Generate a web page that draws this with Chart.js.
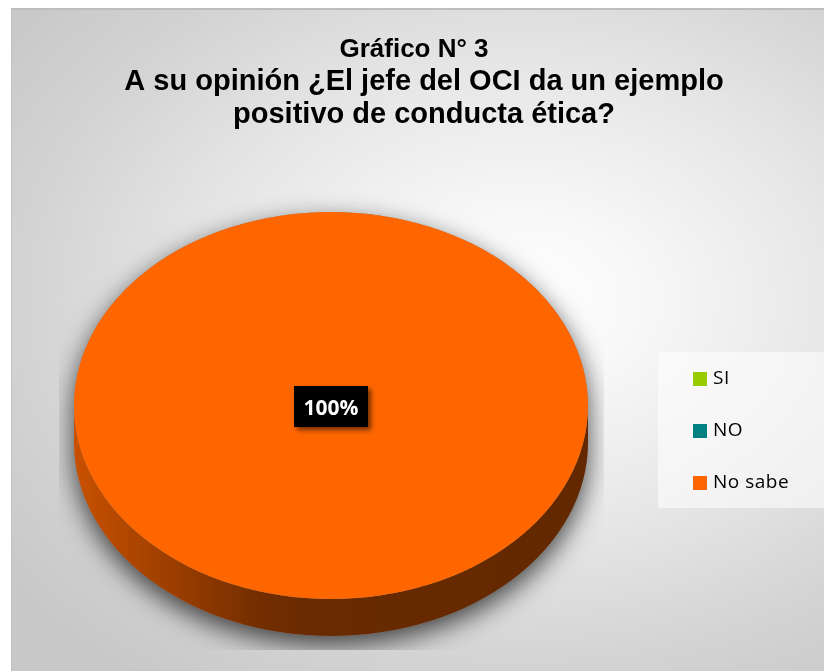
<!DOCTYPE html>
<html>
<head>
<meta charset="utf-8">
<script src="https://cdn.jsdelivr.net/npm/chart.js@4.4.1/dist/chart.umd.min.js"></script>
<style>
  html, body { margin: 0; padding: 0; background: #ffffff; }
  #wrap { position: relative; width: 824px; height: 671px; overflow: hidden; }
  #bg {
    position: absolute; left: 11px; top: 8px; width: 813px; height: 663px;
    box-sizing: border-box;
    border-top: 2px solid #bdbdbd; border-left: 1px solid #c3c3c3;
    background: radial-gradient(ellipse 640px 470px at 510px 290px,
      #ffffff 0%, #f8f8f8 18%, #e6e6e6 50%, #d3d3d3 78%, #c8c8c8 100%);
  }
  canvas { position: absolute; left: 0; top: 0; }
</style>
</head>
<body>
<div id="wrap">
  <div id="bg"></div>
  <canvas id="chart" width="824" height="671"></canvas>
</div>
<script>
// Chart content
const titleLines = ['Gráfico N° 3', 'A su opinión ¿El jefe del OCI da un ejemplo', 'positivo de conducta ética?'];
const categories = ['SI', 'NO', 'No sabe'];
const values = [0, 0, 100];
const sliceColors = ['#99CC00', '#008080', '#FF6600'];

// Perspective of the pie: vertical squash of the top face and wall height
const TILT = 0.753;
const DEPTH = 37;

function shade(hex, f) {
  const n = parseInt(hex.slice(1), 16);
  const r = Math.round(((n >> 16) & 255) * f);
  const g = Math.round(((n >> 8) & 255) * f);
  const b = Math.round((n & 255) * f);
  return 'rgb(' + r + ',' + g + ',' + b + ')';
}

const pie3d = {
  id: 'pie3d',
  beforeDatasetsDraw(chart) {
    const ctx = chart.ctx;
    const arcs = chart.getDatasetMeta(0).data;
    const cx = arcs[0].x, cy = arcs[0].y;
    const r = arcs[0].outerRadius;
    const ry = r * TILT;

    // soft drop shadow under the disc, kept inside the plot area
    ctx.save();
    ctx.beginPath();
    ctx.rect(cx - r - 15, cy - ry - 60, 2 * r + 31, ry * 2 + DEPTH + 74);
    ctx.clip();
    ctx.shadowColor = 'rgba(0,0,0,0.7)';
    ctx.shadowBlur = 26;
    ctx.shadowOffsetY = 9;
    ctx.fillStyle = '#8a8a8a';
    ctx.beginPath();
    ctx.ellipse(cx, cy, r, ry, 0, Math.PI, 0);
    ctx.ellipse(cx, cy + DEPTH, r, ry, 0, 0, Math.PI);
    ctx.closePath();
    ctx.fill();
    ctx.restore();

    // front walls of each slice
    arcs.forEach((arc, i) => {
      const s = arc.startAngle, e = arc.endAngle;
      if (e - s <= 0) return;
      const base = chart.data.datasets[0].backgroundColor[i];
      const grad = ctx.createLinearGradient(cx - r, 0, cx + r, 0);
      grad.addColorStop(0, shade(base, 0.79));
      grad.addColorStop(0.18, shade(base, 0.62));
      grad.addColorStop(0.36, shade(base, 0.45));
      grad.addColorStop(0.46, shade(base, 0.41));
      grad.addColorStop(1, shade(base, 0.39));
      [-2 * Math.PI, 0, 2 * Math.PI].forEach(off => {
        const a0 = Math.max(s, off), a1 = Math.min(e, off + Math.PI);
        if (a1 <= a0) return;
        ctx.beginPath();
        ctx.ellipse(cx, cy, r, ry, 0, a0, a1);
        ctx.ellipse(cx, cy + DEPTH, r, ry, 0, a1, a0, true);
        ctx.closePath();
        ctx.fillStyle = grad;
        ctx.fill();
      });
    });

    // squash the top face drawn by the doughnut controller
    ctx.save();
    ctx.translate(cx, cy);
    ctx.scale(1, TILT);
    ctx.translate(-cx, -cy);
  },
  afterDatasetsDraw(chart) {
    const ctx = chart.ctx;
    ctx.restore();

    const arcs = chart.getDatasetMeta(0).data;
    const data = chart.data.datasets[0].data;
    const total = data.reduce((a, b) => a + b, 0);
    const cx = arcs[0].x, cy = arcs[0].y;

    arcs.forEach((arc, i) => {
      const v = data[i];
      if (!v) return;
      let px, py;
      if (arc.endAngle - arc.startAngle >= 2 * Math.PI - 1e-6) {
        px = cx; py = cy;
      } else {
        const p = arc.tooltipPosition();
        px = p.x; py = cy + (p.y - cy) * TILT;
      }
      const txt = Math.round(v / total * 100) + '%';
      ctx.save();
      ctx.font = 'bold 21px "Open Sans"';
      const w = ctx.measureText(txt).width;
      const bw = w + 19, bh = 41;
      const bx = px - bw / 2, by = py + 1 - bh / 2;
      ctx.shadowColor = 'rgba(0,0,0,0.55)';
      ctx.shadowBlur = 5;
      ctx.shadowOffsetX = 3;
      ctx.shadowOffsetY = 3;
      ctx.fillStyle = '#000000';
      ctx.fillRect(bx, by, bw, bh);
      ctx.shadowColor = 'transparent';
      ctx.fillStyle = '#ffffff';
      ctx.textAlign = 'center';
      ctx.textBaseline = 'alphabetic';
      ctx.fillText(txt, px, by + bh / 2 + 8);
      ctx.restore();
    });
  },
  afterDraw(chart) {
    const ctx = chart.ctx;
    ctx.save();

    // title: heading line, then the question
    ctx.fillStyle = '#000000';
    ctx.textAlign = 'center';
    ctx.textBaseline = 'alphabetic';
    titleLines.forEach((line, k) => {
      ctx.font = (k === 0 ? 'bold 26px' : 'bold 29px') + ' "Liberation Sans", Arial, sans-serif';
      ctx.fillText(line, k === 0 ? 414 : 424, 57 + k * 33);
    });

    // legend
    ctx.fillStyle = 'rgba(255,255,255,0.55)';
    ctx.fillRect(658, 352, 166, 156);
    ctx.font = '19px "Open Sans"';
    ctx.letterSpacing = '0.5px';
    ctx.textAlign = 'left';
    ctx.textBaseline = 'middle';
    chart.data.labels.forEach((lab, i) => {
      const y = 379 + i * 52;
      ctx.fillStyle = chart.data.datasets[0].backgroundColor[i];
      ctx.fillRect(693, y - 7, 14, 14);
      ctx.fillStyle = '#000000';
      ctx.fillText(lab, 713, y);
    });
    ctx.restore();
  }
};

new Chart(document.getElementById('chart'), {
  type: 'pie',
  data: {
    labels: categories,
    datasets: [{
      data: values,
      backgroundColor: sliceColors,
      borderWidth: 0,
      hoverOffset: 0,
      offset: 0
    }]
  },
  options: {
    responsive: false,
    devicePixelRatio: 1,
    animation: false,
    events: [],
    layout: { padding: { left: 74, right: 236, top: 148.5, bottom: 8.5 } },
    plugins: {
      legend: { display: false },
      title: { display: false },
      tooltip: { enabled: false }
    }
  },
  plugins: [pie3d]
});
</script>
</body>
</html>
